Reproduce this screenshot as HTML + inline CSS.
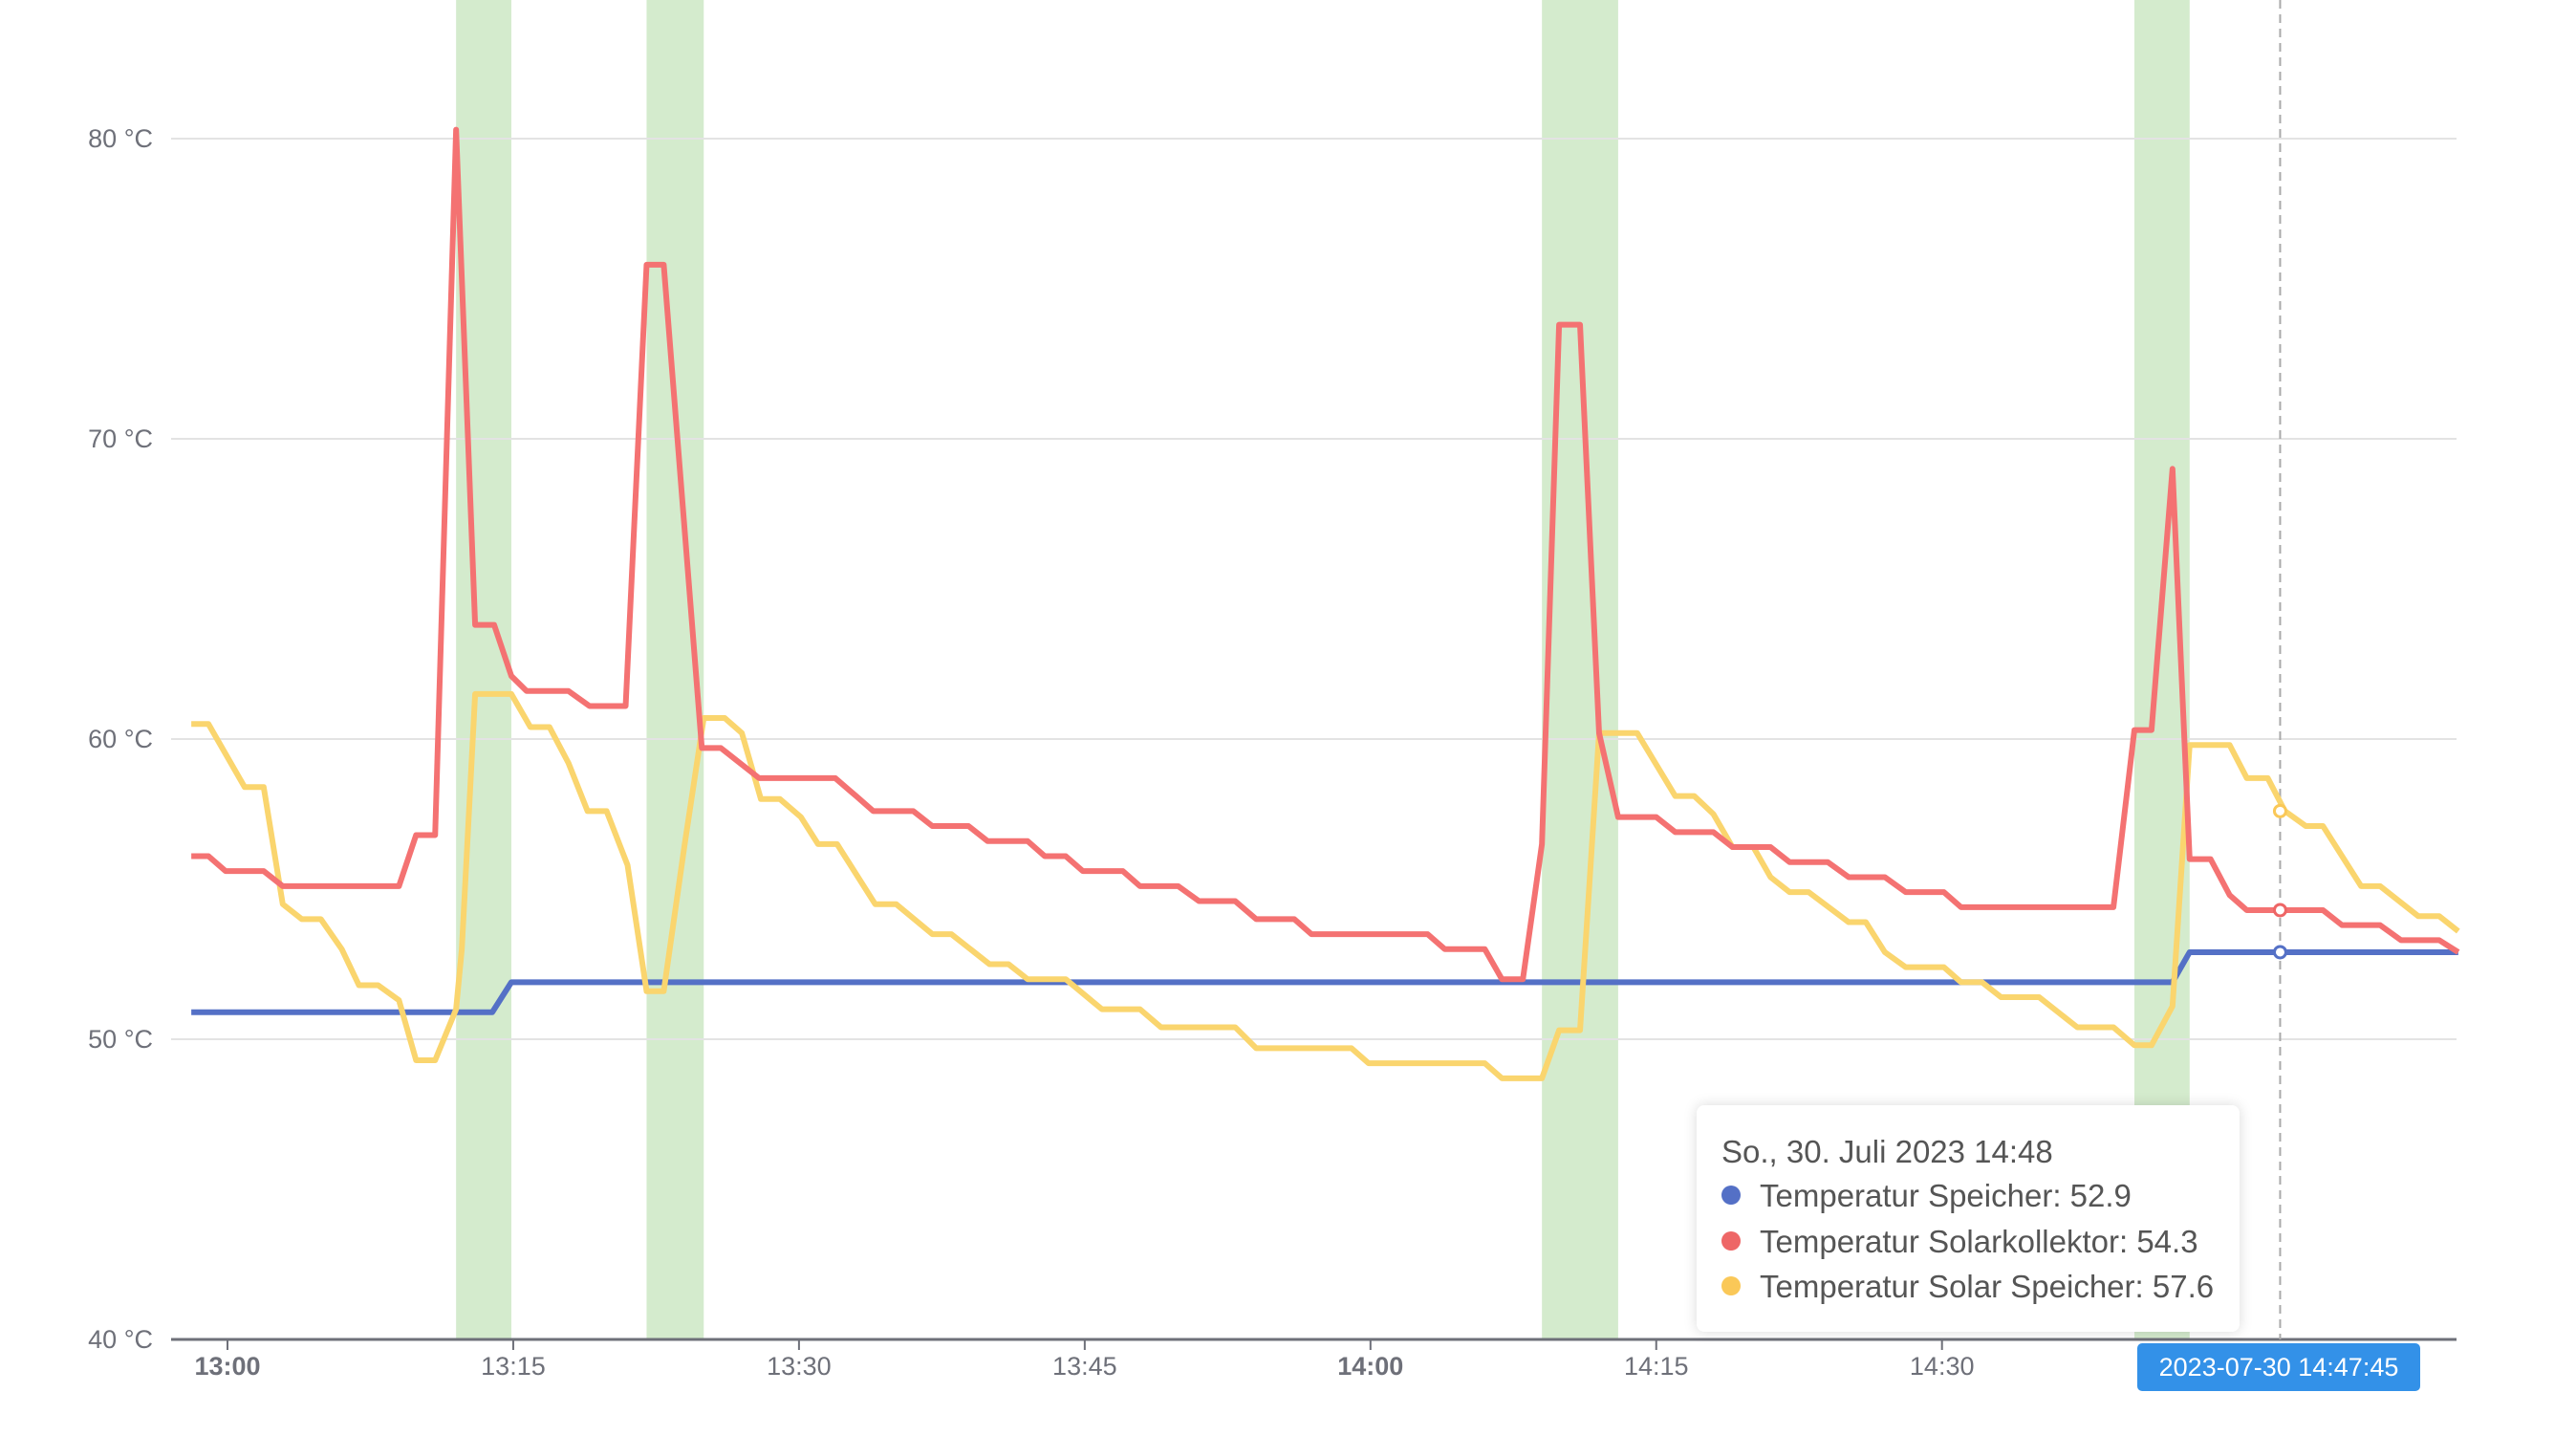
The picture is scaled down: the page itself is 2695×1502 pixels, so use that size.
<!DOCTYPE html>
<html><head><meta charset="utf-8"><style>
html,body{margin:0;padding:0;background:#fff;width:2695px;height:1502px;overflow:hidden;font-family:"Liberation Sans",sans-serif}
#tip{position:absolute;left:1775px;top:1156px;width:568px;height:237px;background:#fff;border-radius:8px;box-shadow:0 0 14px rgba(0,0,0,.15);color:#555;font-size:33px}
#tip div{position:absolute;left:26px;white-space:nowrap}
#tip span.d{display:inline-block;width:20px;height:20px;border-radius:50%;margin-right:20px;vertical-align:middle;position:relative;top:-3px}
#badge{position:absolute;left:2236px;top:1405px;width:296px;height:50px;background:#3391e8;border-radius:5px;color:#fff;font-size:27px;text-align:center;line-height:50px}
</style></head><body>
<svg id="chart" width="2695" height="1502" style="position:absolute;left:0;top:0"></svg>
<div id="tip">
<div style="top:30px">So., 30. Juli 2023 14:48</div>
<div style="top:76px"><span class="d" style="background:#5470c6"></span>Temperatur Speicher: 52.9</div>
<div style="top:124px"><span class="d" style="background:#ee6666"></span>Temperatur Solarkollektor: 54.3</div>
<div style="top:171px"><span class="d" style="background:#fac858"></span>Temperatur Solar Speicher: 57.6</div>
</div>
<div id="badge">2023-07-30 14:47:45</div>
<script>
// minutes after 13:00
const blueT=[-1.9,13.9,14.9,102.1,103.0,117.1];
const blueV=[50.9,50.9,51.9,51.9,52.9,52.9];
const redT=[-1.9,-1.0,-0.1,1.9,2.9,9.0,9.9,10.9,12.0,13.0,14.0,14.9,15.7,17.9,19.0,20.9,22.0,22.9,24.9,25.9,27.9,31.9,33.0,33.9,36.0,37.0,38.9,39.9,42.0,42.9,44.0,44.9,47.0,47.9,49.9,51.0,52.9,54.0,56.0,56.9,63.0,63.9,66.0,66.9,68.0,69.0,69.9,71.0,72.0,73.0,75.0,76.0,78.0,79.0,81.0,82.0,84.0,85.1,87.0,88.1,90.1,91.0,99.0,100.1,101.0,102.1,103.0,104.1,105.1,106.0,110.0,111.0,113.0,114.1,116.1,117.1];
const redV=[56.1,56.1,55.6,55.6,55.1,55.1,56.8,56.8,80.3,63.8,63.8,62.1,61.6,61.6,61.1,61.1,75.8,75.8,59.7,59.7,58.7,58.7,58.1,57.6,57.6,57.1,57.1,56.6,56.6,56.1,56.1,55.6,55.6,55.1,55.1,54.6,54.6,54.0,54.0,53.5,53.5,53.0,53.0,52.0,52.0,56.5,73.8,73.8,60.2,57.4,57.4,56.9,56.9,56.4,56.4,55.9,55.9,55.4,55.4,54.9,54.9,54.4,54.4,60.3,60.3,69.0,56.0,56.0,54.8,54.3,54.3,53.8,53.8,53.3,53.3,52.9];
const yelT=[-1.9,-1.0,0.9,1.9,2.9,3.9,4.9,6.0,6.9,7.9,9.0,9.9,10.9,12.0,12.3,13.0,14.9,15.9,16.9,17.9,18.9,19.9,21.0,22.0,22.9,24.0,25.0,26.1,27.0,28.0,29.0,30.1,31.0,32.0,34.0,35.1,37.0,38.0,40.0,41.0,42.0,44.0,45.9,47.9,49.0,52.9,54.0,59.0,59.9,66.0,66.9,69.0,69.9,71.0,72.0,74.0,76.0,77.0,78.0,79.0,80.1,81.0,82.0,83.0,85.1,86.0,87.0,88.1,90.1,91.0,92.1,93.1,95.1,97.1,99.0,100.1,101.0,102.1,103.0,105.1,106.0,107.1,108.0,109.1,110.0,112.0,113.0,115.0,116.1,117.1];
const yelV=[60.5,60.5,58.4,58.4,54.5,54.0,54.0,53.0,51.8,51.8,51.3,49.3,49.3,51.0,53.0,61.5,61.5,60.4,60.4,59.2,57.6,57.6,55.8,51.6,51.6,56.5,60.7,60.7,60.2,58.0,58.0,57.4,56.5,56.5,54.5,54.5,53.5,53.5,52.5,52.5,52.0,52.0,51.0,51.0,50.4,50.4,49.7,49.7,49.2,49.2,48.7,48.7,50.3,50.3,60.2,60.2,58.1,58.1,57.5,56.4,56.4,55.4,54.9,54.9,53.9,53.9,52.9,52.4,52.4,51.9,51.9,51.4,51.4,50.4,50.4,49.8,49.8,51.1,59.8,59.8,58.7,58.7,57.6,57.1,57.1,55.1,55.1,54.1,54.1,53.6];
const bandStart=[12.0,22.0,69.0,100.1];
const bandEnd=[14.9,25.0,73.0,103.0];
const yTicks=[40,50,60,70,80];
const xTickMin=[0,15,30,45,60,75,90];
const xTickLabels=["13:00","13:15","13:30","13:45","14:00","14:15","14:30"];
const cursorMin=107.75;
const cursorVals=[52.9,54.3,57.6];

const L=179,R=2570,B=1401;
const X=m=>238+m*19.93;
const Y=v=>B-(v-40)*31.4;
const svg=document.getElementById('chart');
const NS='http://www.w3.org/2000/svg';
function mk(tag,attrs){const e=document.createElementNS(NS,tag);for(const k in attrs)e.setAttribute(k,attrs[k]);svg.appendChild(e);return e;}
bandStart.forEach((s,i)=>{const e=mk('rect',{x:X(s),y:0,width:X(bandEnd[i])-X(s),height:B,fill:'#d4ebcd'});

});
yTicks.forEach(v=>{
 if(v>40){const g=mk('line',{x1:L,x2:R,y1:Y(v),y2:Y(v),stroke:'#e3e3e3','stroke-width':2});
 
 }
 const t=mk('text',{x:160,y:Y(v)+9,'text-anchor':'end','font-size':27,fill:'#6e7079'});t.textContent=v+' °C';
 
 
});
const ax=mk('line',{x1:L,x2:R,y1:B,y2:B,stroke:'#6e7079','stroke-width':3});


xTickMin.forEach((m,i)=>{
 mk('line',{x1:X(m),x2:X(m),y1:B,y2:B+11,stroke:'#6e7079','stroke-width':2});
 const t=mk('text',{x:X(m),y:1438,'text-anchor':'middle','font-size':27,fill:'#6e7079','font-weight':(m%60===0)?'bold':'normal'});
 t.textContent=xTickLabels[i];
 
 
});
const cl=mk('line',{x1:X(cursorMin),x2:X(cursorMin),y1:0,y2:B,stroke:'#aaa','stroke-width':2,'stroke-dasharray':'9 6'});


function series(T,V,c,n){const p=mk('polyline',{points:T.map((t,i)=>X(t)+','+Y(V[i])).join(' '),fill:'none',stroke:c,'stroke-width':6,'stroke-linejoin':'round'});

}
series(blueT,blueV,'#5470c6','series-temperatur-speicher');
series(yelT,yelV,'#fad56e','series-temperatur-solar-speicher');
series(redT,redV,'#f47272','series-temperatur-solarkollektor');
['#5470c6','#ee6666','#fac858'].forEach((c,i)=>{const d=mk('circle',{cx:X(cursorMin),cy:Y(cursorVals[i]),r:6,fill:'#fff',stroke:c,'stroke-width':3});

});
</script>
</body></html>
